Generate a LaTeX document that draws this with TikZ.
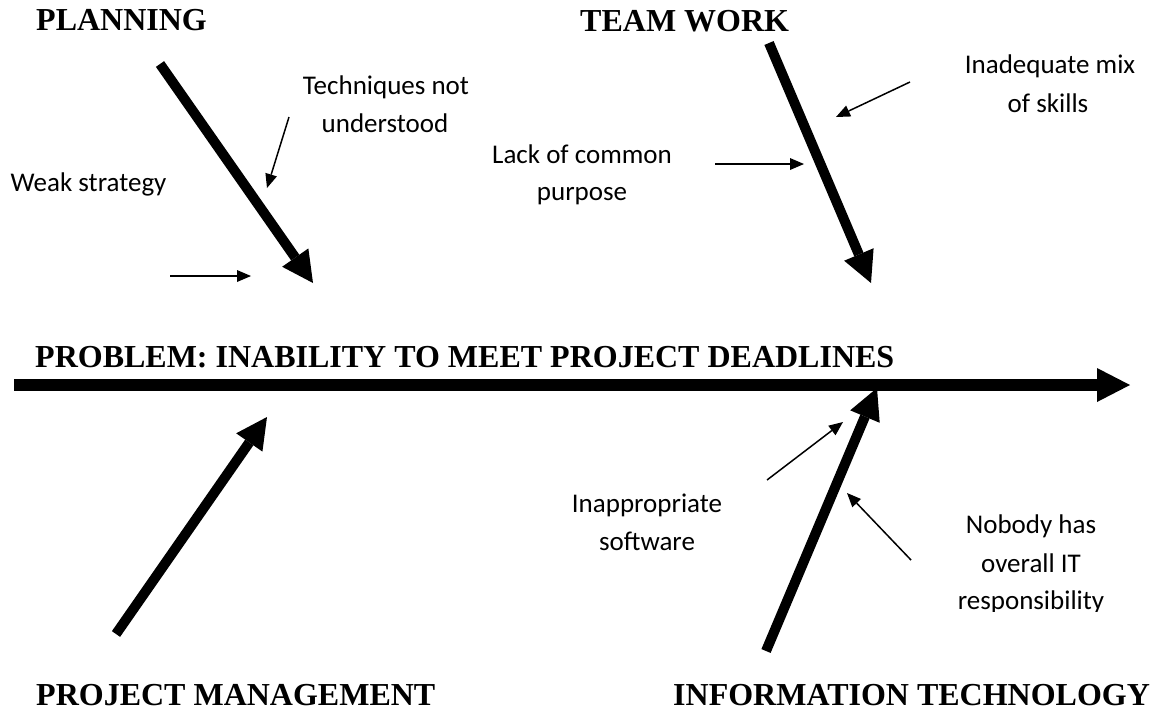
\documentclass[tikz,border=0pt]{standalone}
\usepackage{fontspec}
\setmainfont{Liberation Serif}
\newfontfamily\lblfont{Carlito}
\usetikzlibrary{arrows.meta}
\begin{document}
\begin{tikzpicture}[x=1pt,y=-1pt,
  title/.style={font=\fontsize{32}{38}\selectfont\bfseries, inner sep=0pt, anchor=base west},
  lbl/.style={font=\lblfont\fontsize{27}{38}\selectfont, inner sep=0pt, anchor=base},
  bone/.style={line width=10pt, -{Triangle[length=31pt,width=32pt,line width=0pt]}},
  spinestyle/.style={line width=12pt, -{Triangle[length=33pt,width=34pt,line width=0pt]}},
  twig/.style={line width=1.5pt, -{Triangle[length=14pt,width=12pt,line width=0pt]}}]
\useasboundingbox (0,0) rectangle (1161,710);
% titles
\node[title] (tplan) at (36,30) {PLANNING};
\node[title] (tteam) at (580,31) {TEAM WORK};
\node[title] (tprob) at (35,367) {PROBLEM: INABILITY TO MEET PROJECT DEADLINES};
\node[title, text depth=0pt] (tpm) at (36,705) {PROJECT MANAGEMENT};
\node[title, text depth=0pt] (tit) at (673,705) {INFORMATION TECHNOLOGY};
% spine
\coordinate (s0) at (14,385);
\coordinate (s1) at (1130,385);
\draw[spinestyle] (s0) -- (s1);
% bones
\coordinate (p0) at (160,64);  \coordinate (p1) at (313,283);
\coordinate (w0) at (769,43);  \coordinate (w1) at (871,283);
\coordinate (m0) at (116,634); \coordinate (m1) at (267,417);
\coordinate (i0) at (766,651); \coordinate (i1) at (877,388);
\draw[bone] (p0) -- (p1);
\draw[bone] (w0) -- (w1);
\draw[bone] (m0) -- (m1);
\draw[bone] (i0) -- (i1);
% cause twigs
\coordinate (a0) at (289,117); \coordinate (a1) at (267,188);
\coordinate (b0) at (170,276); \coordinate (b1) at (251,276);
\coordinate (c0) at (910,82);  \coordinate (c1) at (836,117);
\coordinate (d0) at (715,164); \coordinate (d1) at (804,164);
\coordinate (e0) at (767,480); \coordinate (e1) at (843,422);
\coordinate (f0) at (911,560); \coordinate (f1) at (847,493);
\draw[twig] (a0) -- (a1);
\draw[twig] (b0) -- (b1);
\draw[twig] (c0) -- (c1);
\draw[twig] (d0) -- (d1);
\draw[twig] (e0) -- (e1);
\draw[twig] (f0) -- (f1);
% labels
\node[lbl] (lweak) at (88.5,191) {Weak strategy};
\node[lbl] (ltech1) at (386,94) {Techniques not};
\node[lbl] (ltech2) at (385,132) {understood};
\node[lbl] (llack1) at (582,163) {Lack of common};
\node[lbl] (llack2) at (582,200) {purpose};
\node[lbl] (linad1) at (1050,73) {Inadequate mix};
\node[lbl] (linad2) at (1048,112) {of skills};
\node[lbl] (linap1) at (647,512) {Inappropriate};
\node[lbl] (linap2) at (647,550) {software};
\node[lbl] (lnob1) at (1031,533) {Nobody has};
\node[lbl] (lnob2) at (1031,572) {overall IT};
\begin{scope}
\clip (900,585) rectangle (1161,611);
\node[lbl] (lnob3) at (1031,609.5) {responsibility};
\end{scope}
\end{tikzpicture}
\end{document}
